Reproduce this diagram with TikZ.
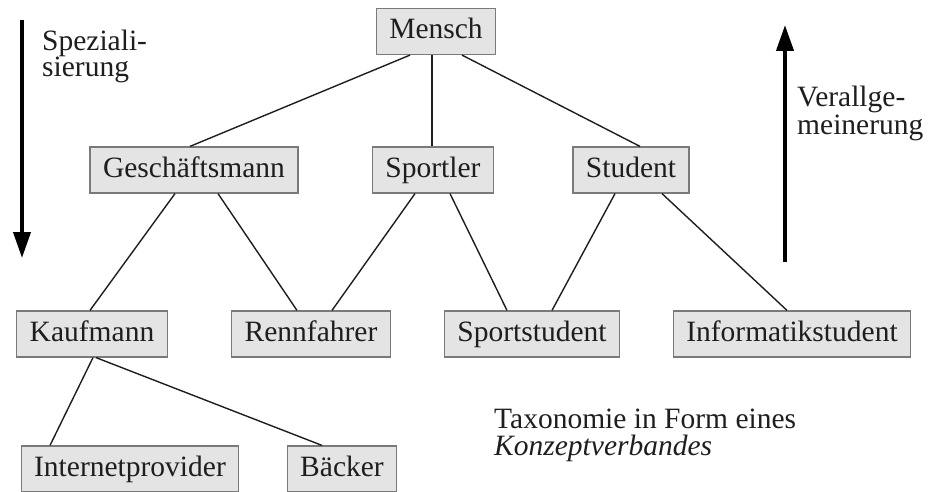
\documentclass[tikz,border=0pt]{standalone}
\usepackage{fontspec}
\setmainfont{Liberation Serif}
\usetikzlibrary{arrows.meta}
\definecolor{boxfill}{HTML}{E4E4E4}
\definecolor{boxline}{HTML}{7A7A7A}
\definecolor{ink}{HTML}{1E1E1E}
\begin{document}
\begin{tikzpicture}[x=1pt,y=-1pt,
  concept/.style={draw=boxline, fill=boxfill, line width=1.2pt, inner xsep=13pt,
    inner ysep=9pt, text height=21pt, text depth=7pt,
    font=\fontsize{29.5}{30}\selectfont, text=ink},
  link/.style={line width=1.4pt, draw=ink},
  caption/.style={align=left, text=ink, inner sep=0pt},
  dirarrow/.style={line width=4pt, draw=black, -{Triangle[length=26pt,width=17pt]}}]
\useasboundingbox (0,0) rectangle (929,492);

% concept boxes
\node[concept] (mensch)  at (436,31.5) {Mensch};
\node[concept] (gesch)   at (194,170) {Geschäftsmann};
\node[concept] (sportler) at (433,170) {Sportler};
\node[concept] (student) at (631,170) {Student};
\node[concept] (kauf)    at (92,334) {Kaufmann};
\node[concept] (renn)    at (311,334) {Rennfahrer};
\node[concept] (sstud)   at (532,334) {Sportstudent};
\node[concept] (istud)   at (792,334) {Informatikstudent};
\node[concept] (inet)    at (130,469) {Internetprovider};
\node[concept] (baecker) at (342,469) {Bäcker};

% lattice edges
\draw[link] ([xshift=-26pt]mensch.south) -- ([xshift=-4pt]gesch.north);
\draw[link] ([xshift=-4pt]mensch.south) -- ([xshift=-1pt]sportler.north);
\draw[link] ([xshift=26pt]mensch.south) -- ([xshift=9pt]student.north);
\draw[link] ([xshift=-19pt]gesch.south) -- ([xshift=-2pt]kauf.north);
\draw[link] ([xshift=24pt]gesch.south) -- ([xshift=-14pt]renn.north);
\draw[link] ([xshift=-18pt]sportler.south) -- ([xshift=21pt]renn.north);
\draw[link] ([xshift=17pt]sportler.south) -- ([xshift=-25pt]sstud.north);
\draw[link] ([xshift=-16pt]student.south) -- ([xshift=20pt]sstud.north);
\draw[link] ([xshift=31pt]student.south) -- ([xshift=-5pt]istud.north);
\draw[link] ([xshift=1pt]kauf.south) -- ([xshift=-80pt]inet.north);
\draw[link] ([xshift=4pt]kauf.south) -- ([xshift=-20pt]baecker.north);

% direction arrows
\coordinate (spTop) at (22,20);
\coordinate (spBot) at (22,258);
\coordinate (vaBot) at (785,262);
\coordinate (vaTop) at (785,25);
\draw[dirarrow] (spTop) -- (spBot);
\draw[dirarrow] (vaBot) -- (vaTop);

% captions (base anchor sits on the last line)
\node[caption, anchor=base west, font=\fontsize{29.5}{25}\selectfont] (spez) at (42,77) {Speziali-\\sierung};
\node[caption, anchor=base west, font=\fontsize{29.5}{28}\selectfont] (verall) at (797,135) {Verallge-\\meinerung};
\node[caption, anchor=base west, font=\fontsize{29.5}{27}\selectfont] (taxo) at (494,455) {Taxonomie in Form eines\\\textit{Konzeptverbandes}};
\end{tikzpicture}
\end{document}
